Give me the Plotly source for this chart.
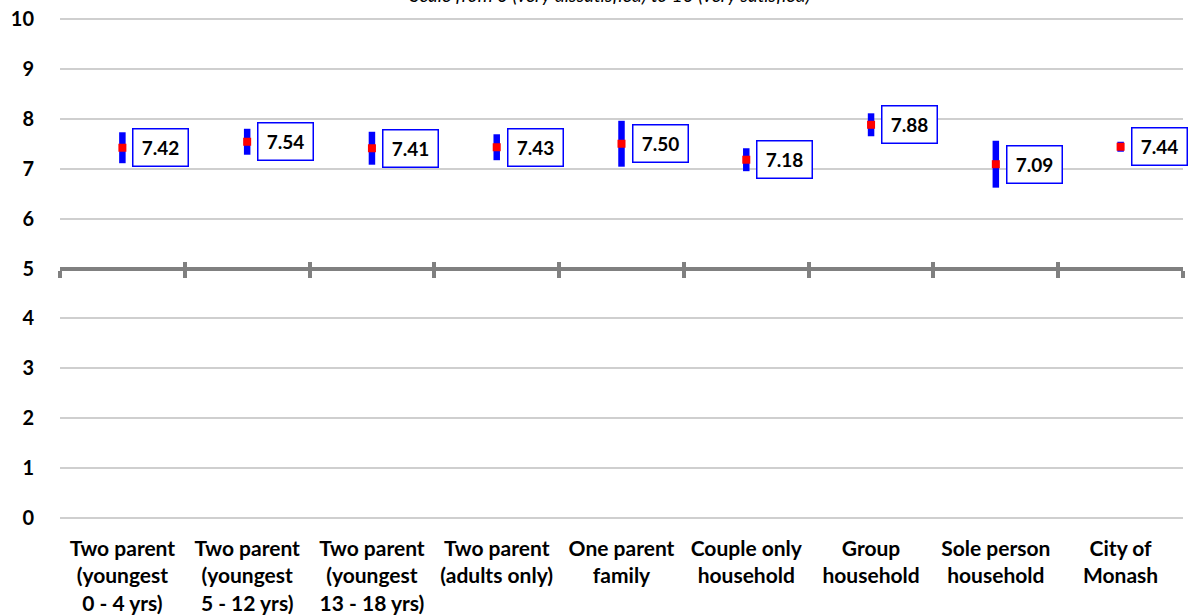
import plotly.graph_objects as go

categories = [
    "Two parent<br>(youngest<br>0 - 4 yrs)",
    "Two parent<br>(youngest<br>5 - 12 yrs)",
    "Two parent<br>(youngest<br>13 - 18 yrs)",
    "Two parent<br>(adults only)",
    "One parent<br>family",
    "Couple only<br>household",
    "Group<br>household",
    "Sole person<br>household",
    "City of<br>Monash",
]
means = [7.42, 7.54, 7.41, 7.43, 7.50, 7.18, 7.88, 7.09, 7.44]
ci_half = [0.31, 0.26, 0.33, 0.26, 0.46, 0.23, 0.23, 0.47, 0.10]
y_ticks = [0, 1, 2, 3, 4, 5, 6, 7, 8, 9, 10]
title_text = "Scale from 0 (very dissatisfied) to 10 (very satisfied)"

FONT = "Lato"
xpos = list(range(len(categories)))
bounds = [i - 0.5 for i in range(len(categories) + 1)]

fig = go.Figure()
fig.add_trace(go.Scatter(
    x=xpos, y=means, mode="markers",
    marker=dict(symbol="square", size=8, color="#FF0000"),
    error_y=dict(type="data", array=ci_half, visible=True,
                 color="#0000FF", thickness=6.5, width=0),
    showlegend=False, hoverinfo="skip",
))
# invisible helpers so the crossing axes render
for xa in ["x2", "x3"]:
    fig.add_trace(go.Scatter(x=xpos, y=means, xaxis=xa, mode="markers",
                             marker=dict(opacity=0), showlegend=False,
                             hoverinfo="skip"))

for i, v in enumerate(means):
    fig.add_annotation(
        x=xpos[i], y=v, xref="x", yref="y", text="<b>%.2f</b>" % v,
        showarrow=False, xanchor="left", yanchor="middle", xshift=10,
        font=dict(family=FONT, size=19, color="#000000"),
        bgcolor="#FFFFFF", bordercolor="#0000FF", borderwidth=1.5,
        borderpad=5, width=44, height=26,
    )

fig.add_annotation(
    x=0.49, y=1, xref="paper", yref="paper", text="<i>" + title_text + "</i>",
    showarrow=False, xanchor="center", yanchor="middle", yshift=22,
    font=dict(family=FONT, size=19, color="#000000"),
)

axis_common = dict(range=[-0.5, len(categories) - 0.5], showgrid=False, zeroline=False)

fig.update_layout(
    width=1189, height=616,
    margin=dict(l=60, r=6, t=16, b=95, autoexpand=False),
    paper_bgcolor="#FFFFFF", plot_bgcolor="#FFFFFF",
    font=dict(family=FONT, size=18, color="#000000"),
    xaxis=dict(**axis_common, tickvals=xpos,
               ticktext=["<b>%s</b>" % c for c in categories],
               showline=False, ticks="", ticklabelstandoff=13, automargin=False,
               tickfont=dict(family=FONT, size=21, color="#000000")),
    xaxis2=dict(**axis_common, overlaying="x", anchor="free", position=0.5,
                side="bottom", tickvals=bounds, showticklabels=False,
                showline=True, linecolor="#808080", linewidth=4,
                ticks="outside", ticklen=7, tickwidth=4, tickcolor="#808080"),
    xaxis3=dict(**axis_common, overlaying="x", anchor="free", position=0.5,
                side="bottom", tickvals=bounds, showticklabels=False,
                showline=False,
                ticks="inside", ticklen=7, tickwidth=4, tickcolor="#808080"),
    yaxis=dict(range=[-0.06, 10.06], tickvals=y_ticks,
               ticktext=["<b>%d</b>" % t for t in y_ticks],
               showgrid=True, gridcolor="#CFCFCF", gridwidth=2,
               zeroline=False, showline=False, ticks="", automargin=False,
               ticklabelstandoff=25,
               tickfont=dict(family=FONT, size=20, color="#000000")),
)

fig.write_html("out.html", config={"displayModeBar": False},
               post_script="document.body.style.margin='0px';")
